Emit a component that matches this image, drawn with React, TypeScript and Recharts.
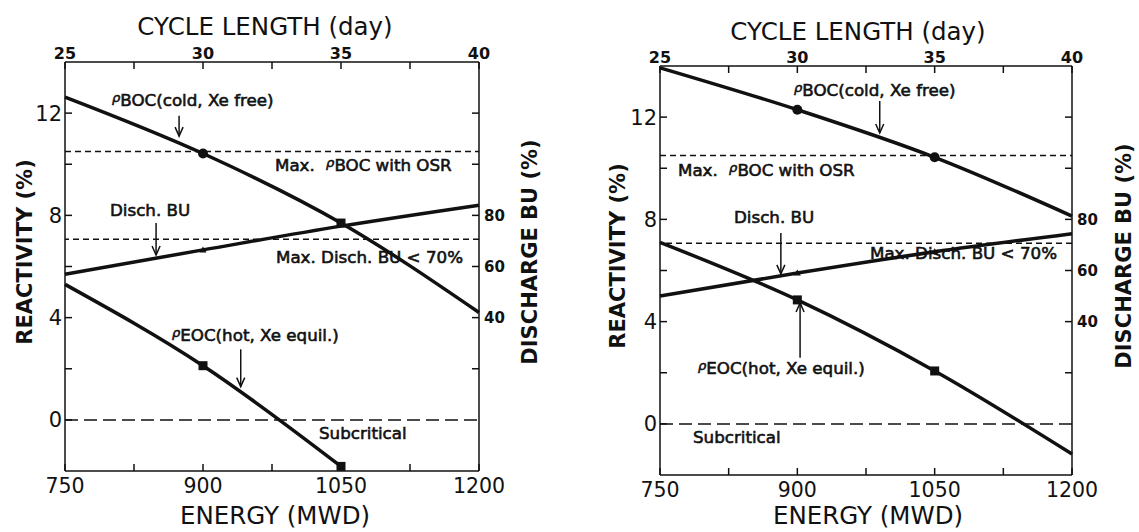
import React from 'react';
import { LineChart, Line, XAxis, YAxis, ReferenceLine } from 'recharts';

// shared axes
const energy = [750, 900, 1050, 1200];
const cycleDays = [25, 30, 35, 40];
const energyTicks = [750, 825, 900, 975, 1050, 1125, 1200];
const energyLabels = [750, 900, 1050, 1200];
const cycleTicks = [25, 27.5, 30, 32.5, 35, 37.5, 40];
const cycleLabels = [25, 30, 35, 40];
const reactTicks = [0, 2, 4, 6, 8, 10, 12];
const reactLabels = [0, 4, 8, 12];
const buTicks = [20, 40, 60, 80, 100, 120];
const buLabels = [40, 60, 80];

// left panel
const bocLeft = [12.63, 10.42, 7.7, 4.2];
const buLeft = [57, 66.5, 75.8, 84];
const eocLeft = [5.3, 2.12, -1.82, null];

// right panel
const bocRight = [13.93, 12.29, 10.43, 8.13];
const buRight = [50, 59, 67.3, 74.4];
const eocRight = [7.1, 4.85, 2.07, -1.18];

// limits
const maxBoc = 10.5;
const maxBu = 70.7;
const critical = 0;

const INK = '#111';
const FONT = '"DejaVu Sans", sans-serif';
const TICK_LEN = 7;

type Side = 'left' | 'right' | 'top' | 'bottom';
type Mark = 'circle' | 'square' | 'tri' | null;

const tickRenderer =
  (side: Side, labels: number[], size: number, weight: string, gap: number) =>
  (props: any) => {
    const { x, y, payload, index } = props;
    const v = payload.value;
    const show = labels.includes(v);
    const txt = { fontSize: size, fontWeight: weight, fontFamily: FONT, fill: INK };
    let line;
    let text = null;
    if (side === 'left') {
      const ax = x + gap;
      line = <line x1={ax} x2={ax + TICK_LEN} y1={y} y2={y} stroke={INK} strokeWidth={1.5} />;
      if (show) text = <text x={x} y={y} dy="0.36em" textAnchor="end" {...txt}>{v}</text>;
    } else if (side === 'right') {
      const ax = x - gap;
      line = <line x1={ax - TICK_LEN} x2={ax} y1={y} y2={y} stroke={INK} strokeWidth={1.5} />;
      if (show) text = <text x={x} y={y} dy="0.36em" textAnchor="start" {...txt}>{v}</text>;
    } else if (side === 'top') {
      const ay = y + gap;
      line = <line x1={x} x2={x} y1={ay} y2={ay + TICK_LEN} stroke={INK} strokeWidth={1.5} />;
      if (show) text = <text x={x} y={y} textAnchor="middle" {...txt}>{v}</text>;
    } else {
      const ay = y - gap;
      line = <line x1={x} x2={x} y1={ay - TICK_LEN} y2={ay} stroke={INK} strokeWidth={1.5} />;
      if (show) text = <text x={x} y={y} dy="0.74em" textAnchor="middle" {...txt}>{v}</text>;
    }
    return (
      <g key={`t-${side}-${index}`}>
        {line}
        {text}
      </g>
    );
  };

const markDot = (marks: Mark[]) => (p: any) => {
  const { cx, cy, index } = p;
  const m = marks[index];
  const key = `d-${index}`;
  if (m == null || cx == null || cy == null) return <g key={key} />;
  if (m === 'circle') return <circle key={key} cx={cx} cy={cy} r={5} fill={INK} />;
  if (m === 'square') return <rect key={key} x={cx - 4.5} y={cy - 4.5} width={9} height={9} fill={INK} />;
  return <path key={key} d={`M${cx - 3.5},${cy + 2.5}L${cx + 3.5},${cy + 2.5}L${cx},${cy - 3.5}Z`} fill={INK} />;
};

const arrowShape = (props: any) => {
  const { x1, y1, x2, y2 } = props;
  const dir = y2 > y1 ? 1 : -1;
  return (
    <g>
      <line x1={x1} y1={y1} x2={x2} y2={y2} stroke={INK} strokeWidth={1.5} />
      <path
        d={`M${x2 - 4},${y2 - dir * 9}L${x2},${y2}L${x2 + 4},${y2 - dir * 9}`}
        fill="none"
        stroke={INK}
        strokeWidth={1.5}
      />
    </g>
  );
};

interface Arrow {
  x: number;
  from: number;
  to: number;
}

interface PanelProps {
  width: number;
  boc: (number | null)[];
  bu: (number | null)[];
  eoc: (number | null)[];
  marks: { boc: Mark[]; bu: Mark[]; eoc: Mark[] };
  arrows: Arrow[];
  box: { left: number; right: number; top: number; bottom: number };
  yMax: number;
}

const Panel: React.FC<PanelProps> = ({ width, boc, bu, eoc, marks, arrows, box, yMax }) => {
  const data = energy.map((e, i) => ({ energy: e, cycle: cycleDays[i], boc: boc[i], bu: bu[i], eoc: eoc[i] }));
  const axisLine = { stroke: INK, strokeWidth: 1.5 };
  return (
    <LineChart width={width} height={532} data={data} margin={{ top: 0, right: 0, bottom: 0, left: 0 }}>
      <XAxis
        xAxisId="bottom"
        dataKey="energy"
        type="number"
        domain={[750, 1200]}
        ticks={energyTicks}
        interval={0}
        height={box.bottom}
        tickSize={0}
        tickMargin={7}
        tickLine={false}
        axisLine={axisLine}
        tick={tickRenderer('bottom', energyLabels, 20.5, 'normal', 7)}
      />
      <XAxis
        xAxisId="top"
        dataKey="cycle"
        orientation="top"
        type="number"
        domain={[25, 40]}
        ticks={cycleTicks}
        interval={0}
        height={box.top}
        tickSize={0}
        tickMargin={3}
        tickLine={false}
        axisLine={axisLine}
        tick={tickRenderer('top', cycleLabels, 16, 'bold', 3)}
      />
      <YAxis
        yAxisId="r"
        type="number"
        domain={[-2, yMax]}
        ticks={reactTicks}
        interval={0}
        width={box.left}
        tickSize={0}
        tickMargin={3}
        tickLine={false}
        axisLine={axisLine}
        tick={tickRenderer('left', reactLabels, 21, 'normal', 3)}
      />
      <YAxis
        yAxisId="bu"
        orientation="right"
        type="number"
        domain={[-20, yMax * 10]}
        ticks={buTicks}
        interval={0}
        width={box.right}
        tickSize={0}
        tickMargin={5}
        tickLine={false}
        axisLine={axisLine}
        tick={tickRenderer('right', buLabels, 15, 'bold', 5)}
      />
      <ReferenceLine xAxisId="bottom" yAxisId="r" y={maxBoc} stroke={INK} strokeWidth={1.5} strokeDasharray="6 4" />
      <ReferenceLine xAxisId="bottom" yAxisId="bu" y={maxBu} stroke={INK} strokeWidth={1.5} strokeDasharray="6 4" />
      <ReferenceLine xAxisId="bottom" yAxisId="r" y={critical} stroke={INK} strokeWidth={1.5} strokeDasharray="13 6" />
      {arrows.map((a, i) => (
        <ReferenceLine
          key={`a-${i}`}
          xAxisId="bottom"
          yAxisId="r"
          segment={[
            { x: a.x, y: a.from },
            { x: a.x, y: a.to },
          ]}
          shape={arrowShape}
        />
      ))}
      {/* invisible series so the cycle-length axis gets drawn */}
      <Line
        xAxisId="top"
        yAxisId="r"
        dataKey="boc"
        stroke="none"
        dot={false}
        activeDot={false}
        isAnimationActive={false}
      />
      <Line
        xAxisId="bottom"
        yAxisId="r"
        dataKey="boc"
        type="monotone"
        stroke={INK}
        strokeWidth={3.5}
        dot={markDot(marks.boc)}
        isAnimationActive={false}
      />
      <Line
        xAxisId="bottom"
        yAxisId="bu"
        dataKey="bu"
        type="monotone"
        stroke={INK}
        strokeWidth={3.5}
        dot={markDot(marks.bu)}
        isAnimationActive={false}
      />
      <Line
        xAxisId="bottom"
        yAxisId="r"
        dataKey="eoc"
        type="monotone"
        stroke={INK}
        strokeWidth={3.5}
        dot={markDot(marks.eoc)}
        isAnimationActive={false}
      />
    </LineChart>
  );
};

const note = { fontFamily: FONT, fontSize: 16.7, fill: INK, stroke: INK, strokeWidth: 0.6 };
const title = { fontFamily: FONT, fontSize: 24.5, fill: INK };
const sideTitle = { fontFamily: FONT, fontSize: 21, fontWeight: 'bold' as const, fill: INK };

const Rho: React.FC<{ rest: string; gap?: number }> = ({ rest, gap = 0 }) => (
  <>
    <tspan fontStyle="italic" fontSize={13} dx={gap} dy={-4}>ρ</tspan>
    <tspan dy={4}>{rest}</tspan>
  </>
);

const Notes: React.FC<{ pos: any }> = ({ pos }) => (
  <g>
    <text x={pos.titleTop[0]} y={pos.titleTop[1]} textAnchor="middle" {...title}>CYCLE LENGTH (day)</text>
    <text x={pos.titleBottom[0]} y={pos.titleBottom[1]} textAnchor="middle" {...title}>ENERGY (MWD)</text>
    <text
      transform={`translate(${pos.yLeft[0]},${pos.yLeft[1]}) rotate(-90)`}
      textAnchor="middle"
      dominantBaseline="central"
      {...sideTitle}
    >
      REACTIVITY (%)
    </text>
    <text
      transform={`translate(${pos.yRight[0]},${pos.yRight[1]}) rotate(-90)`}
      textAnchor="middle"
      dominantBaseline="central"
      {...sideTitle}
    >
      DISCHARGE BU (%)
    </text>
    <text x={pos.boc[0]} y={pos.boc[1]} {...note}><Rho rest="BOC(cold, Xe free)" /></text>
    <text x={pos.maxBoc[0]} y={pos.maxBoc[1]} {...note}>
      <tspan>Max. </tspan>
      <Rho rest="BOC with OSR" gap={6} />
    </text>
    <text x={pos.bu[0]} y={pos.bu[1]} {...note}>Disch. BU</text>
    <text x={pos.maxBu[0]} y={pos.maxBu[1]} {...note}>Max. Disch. BU &lt; 70%</text>
    <text x={pos.eoc[0]} y={pos.eoc[1]} {...note}><Rho rest="EOC(hot, Xe equil.)" /></text>
    <text x={pos.sub[0]} y={pos.sub[1]} {...note}>Subcritical</text>
  </g>
);

const leftPos = {
  titleTop: [265, 35],
  titleBottom: [275, 524],
  yLeft: [25, 252],
  yRight: [530, 252],
  boc: [112, 106],
  maxBoc: [275, 171],
  bu: [110, 216],
  maxBu: [276, 263],
  eoc: [172, 341],
  sub: [319, 439],
};

const rightPos = {
  titleTop: [858, 40],
  titleBottom: [868, 524],
  yLeft: [618, 256],
  yRight: [1124, 256],
  boc: [794, 96],
  maxBoc: [678, 176],
  bu: [734, 223],
  maxBu: [870, 259],
  eoc: [698, 374],
  sub: [693, 443],
};

export default function App() {
  return (
    <div style={{ position: 'absolute', left: 0, top: 0, width: 1139, height: 532, background: '#fff' }}>
      <div style={{ position: 'absolute', left: 0, top: 0 }}>
        <Panel
          width={570}
          boc={bocLeft}
          bu={buLeft}
          eoc={eocLeft}
          yMax={14}
          box={{ left: 65, right: 91, top: 62, bottom: 61 }}
          marks={{
            boc: [null, 'circle', 'square', null],
            bu: [null, 'tri', null, null],
            eoc: [null, 'square', 'square', null],
          }}
          arrows={[
            { x: 874, from: 11.9, to: 11.1 },
            { x: 849, from: 7.7, to: 6.45 },
            { x: 941, from: 2.76, to: 1.3 },
          ]}
        />
      </div>
      <div style={{ position: 'absolute', left: 570, top: 0 }}>
        <Panel
          width={569}
          boc={bocRight}
          bu={buRight}
          eoc={eocRight}
          yMax={14}
          box={{ left: 90, right: 67, top: 66, bottom: 57 }}
          marks={{
            boc: [null, 'circle', 'circle', null],
            bu: [null, 'tri', 'tri', null],
            eoc: [null, 'square', 'square', null],
          }}
          arrows={[
            { x: 990, from: 12.63, to: 11.38 },
            { x: 882, from: 7.47, to: 5.87 },
            { x: 903, from: 2.59, to: 4.73 },
          ]}
        />
      </div>
      <svg
        width={1139}
        height={532}
        style={{ position: 'absolute', left: 0, top: 0, pointerEvents: 'none' }}
      >
        <Notes pos={leftPos} />
        <Notes pos={rightPos} />
      </svg>
    </div>
  );
}
